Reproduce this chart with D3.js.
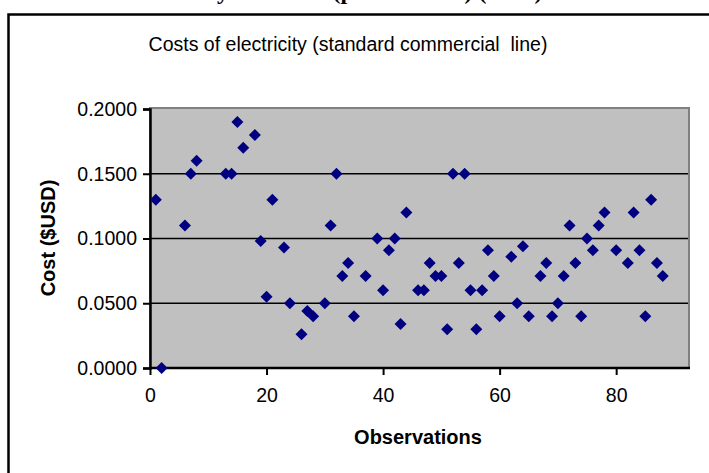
<!DOCTYPE html>
<html lang="en">
<head>
<meta charset="UTF-8">
<script src="https://d3js.org/d3.v7.min.js"></script>
<style>
  body { margin: 0; background: #fff; }
  svg { display: block; font-family: Arial, "Liberation Sans", sans-serif; }
  .tick text { font-size: 19.5px; fill: #000; }
  .axis-label { font-size: 20px; font-weight: bold; }
  .chart-title { white-space: pre; }
</style>
</head>
<body>
<div id="chart"></div>
<script>
const observations = [1, 2, 6, 7, 8, 13, 14, 15, 16, 18, 19, 20, 21, 23, 24, 26, 27, 28, 30, 31,
  32, 33, 34, 35, 37, 39, 40, 41, 42, 43, 44, 46, 47, 48, 49, 50, 51, 52, 53, 54,
  55, 56, 57, 58, 59, 60, 62, 63, 64, 65, 67, 68, 69, 70, 71, 72, 73, 74, 75, 76,
  77, 78, 80, 82, 83, 84, 85, 86, 87, 88];
const costs = [0.13, 0, 0.11, 0.15, 0.16, 0.15, 0.15, 0.19, 0.17, 0.18, 0.098, 0.055, 0.13, 0.093, 0.05, 0.026, 0.044, 0.04, 0.05, 0.11,
  0.15, 0.071, 0.081, 0.04, 0.071, 0.1, 0.06, 0.091, 0.1, 0.034, 0.12, 0.06, 0.06, 0.081, 0.071, 0.071, 0.03, 0.15, 0.081, 0.15,
  0.06, 0.03, 0.06, 0.091, 0.071, 0.04, 0.086, 0.05, 0.094, 0.04, 0.071, 0.081, 0.04, 0.05, 0.071, 0.11, 0.081, 0.04, 0.1, 0.091,
  0.11, 0.12, 0.091, 0.081, 0.12, 0.091, 0.04, 0.13, 0.081, 0.071];
const xTicks = [0, 20, 40, 60, 80];
const yTicks = [0, 0.05, 0.1, 0.15, 0.2];

const W = 709, H = 473;
const plot = {left: 150, right: 689, top: 109, bottom: 368};

const svg = d3.select("#chart").append("svg")
    .attr("width", W)
    .attr("height", H);

// heading of the surrounding document, clipped at the top edge
svg.append("text")
    .attr("x", 34)
    .attr("y", -1)
    .attr("font-family", "'Liberation Serif', 'Times New Roman', serif")
    .attr("font-weight", "bold")
    .attr("font-size", 24)
    .text("Table 3: Electricity cost data (per kilowatt) (USD)");

// chart frame
svg.append("rect")
    .attr("x", 8.5).attr("y", 14.5)
    .attr("width", 760).attr("height", 520)
    .attr("fill", "#fff")
    .attr("stroke", "#000")
    .attr("stroke-width", 2.5);

const x = d3.scaleLinear().domain([0, 92.5]).range([plot.left, plot.right]);
const y = d3.scaleLinear().domain([0, 0.2]).range([plot.bottom, plot.top]);

svg.append("rect")
    .attr("x", plot.left).attr("y", plot.top - 1)
    .attr("width", plot.right - plot.left).attr("height", plot.bottom - plot.top + 1)
    .attr("fill", "#c0c0c0")
    .attr("stroke", "#808080")
    .attr("stroke-width", 2);

// gridlines
svg.append("g")
    .selectAll("line")
    .data(yTicks.filter(d => d > 0 && d < 0.2))
    .enter().append("line")
    .attr("x1", plot.left).attr("x2", plot.right - 1)
    .attr("y1", d => y(d)).attr("y2", d => y(d))
    .attr("stroke", "#000")
    .attr("stroke-width", 1.5);

// y axis
const yAxis = svg.append("g")
    .attr("transform", `translate(${plot.left},0)`)
    .call(d3.axisLeft(y).tickValues(yTicks).tickFormat(d3.format(".4f")).tickSize(7).tickPadding(6));
yAxis.select(".domain").attr("stroke-width", 2.5);
yAxis.selectAll(".tick line").attr("stroke-width", 2);

// x axis
const xAxis = svg.append("g")
    .attr("transform", `translate(0,${plot.bottom})`)
    .call(d3.axisBottom(x).tickValues(xTicks).tickSize(7).tickPadding(13));
xAxis.select(".domain").attr("stroke-width", 2.5).attr("d", `M${plot.left},0H${plot.right + 1}`);
xAxis.selectAll(".tick line").attr("stroke-width", 2);
svg.selectAll(".tick text").attr("font-family", "Arial, 'Liberation Sans', sans-serif");

// points
const diamond = d3.symbol().type(d3.symbolSquare).size(72);
svg.append("g")
    .selectAll("path")
    .data(observations.map((o, i) => ({o, c: costs[i]})))
    .enter().append("path")
    .attr("d", diamond)
    .attr("transform", d => `translate(${x(d.o)},${y(d.c)}) rotate(45)`)
    .attr("fill", "#000080");

// titles
svg.append("text")
    .attr("class", "chart-title")
    .attr("x", 348).attr("y", 51)
    .attr("text-anchor", "middle")
    .attr("font-size", 19.5)
    .text("Costs of electricity (standard commercial  line)");

svg.append("text")
    .attr("class", "axis-label")
    .attr("x", 418).attr("y", 444)
    .attr("text-anchor", "middle")
    .text("Observations");

svg.append("text")
    .attr("class", "axis-label")
    .attr("transform", "translate(55,238) rotate(-90)")
    .attr("text-anchor", "middle")
    .text("Cost ($USD)");
</script>
</body>
</html>
